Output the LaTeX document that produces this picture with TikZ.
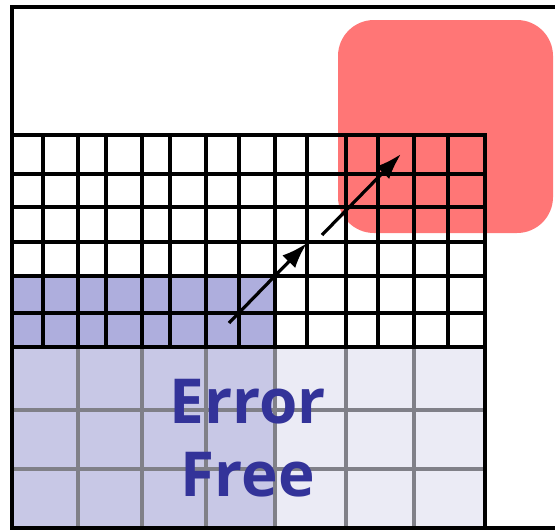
\documentclass[tikz,border=0pt]{standalone}
\usepackage{fontspec}
\setmainfont{Open Sans}
\usetikzlibrary{arrows.meta}

\definecolor{hotred}{RGB}{255,118,118}
\definecolor{finefill}{RGB}{174,174,221}
\definecolor{coarsefill}{RGB}{200,200,230}
\definecolor{palefill}{RGB}{235,235,245}
\definecolor{gridgrey}{RGB}{128,128,136}
\definecolor{errblue}{RGB}{51,51,153}

\tikzset{
  fineline/.style={black, line width=1.7pt},
  coarseline/.style={gridgrey, line width=1.7pt},
  jump/.style={black, line width=1.6pt, -{Latex[length=13pt,width=9pt]}}
}

\begin{document}
\begin{tikzpicture}[x=0.5pt, y=-0.5pt]
 \useasboundingbox (0, 0) rectangle (555, 530);
 \clip (0, 0) rectangle (555, 530);

 % fills
 \fill[coarsefill] (13, 347) rectangle (275, 527);
 \fill[palefill] (275, 347) rectangle (485, 527);
 \fill[finefill] (13, 276) rectangle (275, 347);
 \fill[hotred, rounded corners=18pt] (338, 20) rectangle (553, 233);

 % coarse grid
 \foreach \x in {78, 142, 206, 275, 346, 414}
  \draw[coarseline] (\x, 347) -- (\x, 527);
 \foreach \y in {410, 469}
  \draw[coarseline] (13, \y) -- (485, \y);

 % fine grid
 \foreach \x in {43, 78, 106, 142, 170, 206, 239, 275, 307, 346, 378, 414, 448}
  \draw[fineline] (\x, 135) -- (\x, 347);
 \foreach \y in {174, 207, 242, 276, 313}
  \draw[fineline] (13, \y) -- (485, \y);
 \draw[fineline] (13, 135) -- (485, 135) -- (485, 527);
 \draw[fineline] (13, 347) -- (485, 347);

 % outer frame
 \draw[black, line width=2pt] (600, 7) -- (12, 7) -- (12, 528) -- (600, 528);

 % refinement steps
 \coordinate (s1) at (229, 323);
 \coordinate (e1) at (307, 243);
 \coordinate (s2) at (322, 235);
 \coordinate (e2) at (401, 154);
 \draw[jump] (s1) -- (e1);
 \draw[jump] (s2) -- (e2);

 \node[errblue, font=\bfseries\fontsize{31}{36.5}\selectfont, align=center] (label) at (248, 438) {Error\\Free};
\end{tikzpicture}
\end{document}
